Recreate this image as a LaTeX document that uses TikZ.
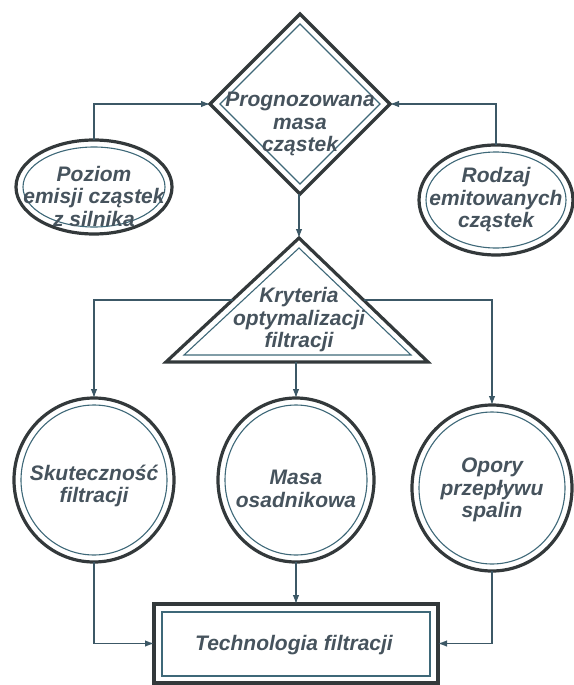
\documentclass[tikz,border=0pt]{standalone}
\usepackage{fontspec}
\setmainfont{Liberation Sans}
\usetikzlibrary{arrows.meta, positioning, calc, shapes.geometric}

\definecolor{rimcol}{HTML}{33393B}
\definecolor{thincol}{HTML}{3E6878}
\definecolor{wirecol}{HTML}{3C5866}
\definecolor{inkcol}{HTML}{46535D}

\tikzset{
  rim/.style={draw=rimcol, line width=3.2pt, outer sep=0pt, inner sep=0pt},
  thin rim/.style={draw=thincol, line width=1.1pt},
  lbl/.style={text=inkcol, align=center, inner sep=0pt,
    font=\fontsize{21}{22.5}\selectfont\bfseries\itshape},
  wire/.style={draw=wirecol, line width=1.1pt, -{Latex[length=9pt,width=6.5pt]}},
}

\begin{document}
\begin{tikzpicture}[x=1pt, y=-1pt]
\useasboundingbox (0,0) rectangle (573,685);

% Predicted mass and its two inputs
\node[rim, diamond, minimum width=180pt, minimum height=180pt] (prog) at (300,104) {};
\draw[thin rim] (300,24) -- (380,104) -- (300,184) -- (220,104) -- cycle;
\node[lbl] (prog-t) at (300,124) {Prognozowana\\masa\\cząstek};

\node[rim, ellipse, minimum width=156pt, minimum height=94pt] (poziom) at (94,187) {};
\draw[thin rim] (poziom.center) ellipse [x radius=71pt, y radius=40pt];
\node[lbl] (poziom-t) at (94,196) {Poziom\\emisji cząstek\\z silnika};

\node[rim, ellipse, minimum width=154pt, minimum height=110pt] (rodzaj) at (496,200) {};
\draw[thin rim] (rodzaj.center) ellipse [x radius=70pt, y radius=48pt];
\node[lbl] (rodzaj-t) at (496,200) {Rodzaj\\emitowanych\\cząstek};

% Criteria triangle
\coordinate (kryt-top) at (299,238);
\coordinate (kryt-l) at (166,362);
\coordinate (kryt-r) at (428,362);
\coordinate (kryt-ls) at ($(kryt-top)!.5!(kryt-l)$);
\coordinate (kryt-rs) at ($(kryt-top)!.5!(kryt-r)$);
\draw[rim] (kryt-top) -- (kryt-r) -- (kryt-l) -- cycle;
\draw[thin rim] (299,248) -- (411,355) -- (184,355) -- cycle;
\node[lbl] (kryt) at (299,320) {Kryteria\\optymalizacji\\filtracji};

% Three criteria
\node[rim, ellipse, minimum width=160pt, minimum height=164pt] (skut) at (94,480) {};
\draw[thin rim] (skut.center) ellipse [x radius=73pt, y radius=75pt];
\node[lbl] (skut-t) at (94,486) {Skuteczność\\filtracji};

\node[rim, ellipse, minimum width=156pt, minimum height=164pt] (masa) at (296,480) {};
\draw[thin rim] (masa.center) ellipse [x radius=71pt, y radius=75pt];
\node[lbl] (masa-t) at (296,489) {Masa\\osadnikowa};

\node[rim, ellipse, minimum width=160pt, minimum height=166pt] (opory) at (492,488) {};
\draw[thin rim] (opory.center) ellipse [x radius=73pt, y radius=76pt];
\node[lbl] (opory-t) at (492,490) {Opory\\przepływu\\spalin};

% Result
\node[rim, minimum width=284pt, minimum height=79pt] (tech) at (296,643.5) {};
\draw[thin rim] (162,612) rectangle (430,676);
\node[lbl] (tech-t) at (294,645) {Technologia filtracji};

% Connectors
\draw[wire] (poziom.north) |- (prog.west);
\draw[wire] (rodzaj.north) |- (prog.east);
\draw[wire] (prog.south -| kryt-top) -- (kryt-top);
\draw[wire] (kryt-ls) -| (skut.north);
\draw[wire] (kryt-rs) -| (opory.north);
\draw[wire] (masa.north |- kryt-l) -- (masa.north);
\draw[wire] (masa.south) -- (tech.north);
\draw[wire] (skut.south) |- (tech.west);
\draw[wire] (opory.south) |- (tech.east);

\end{tikzpicture}
\end{document}
